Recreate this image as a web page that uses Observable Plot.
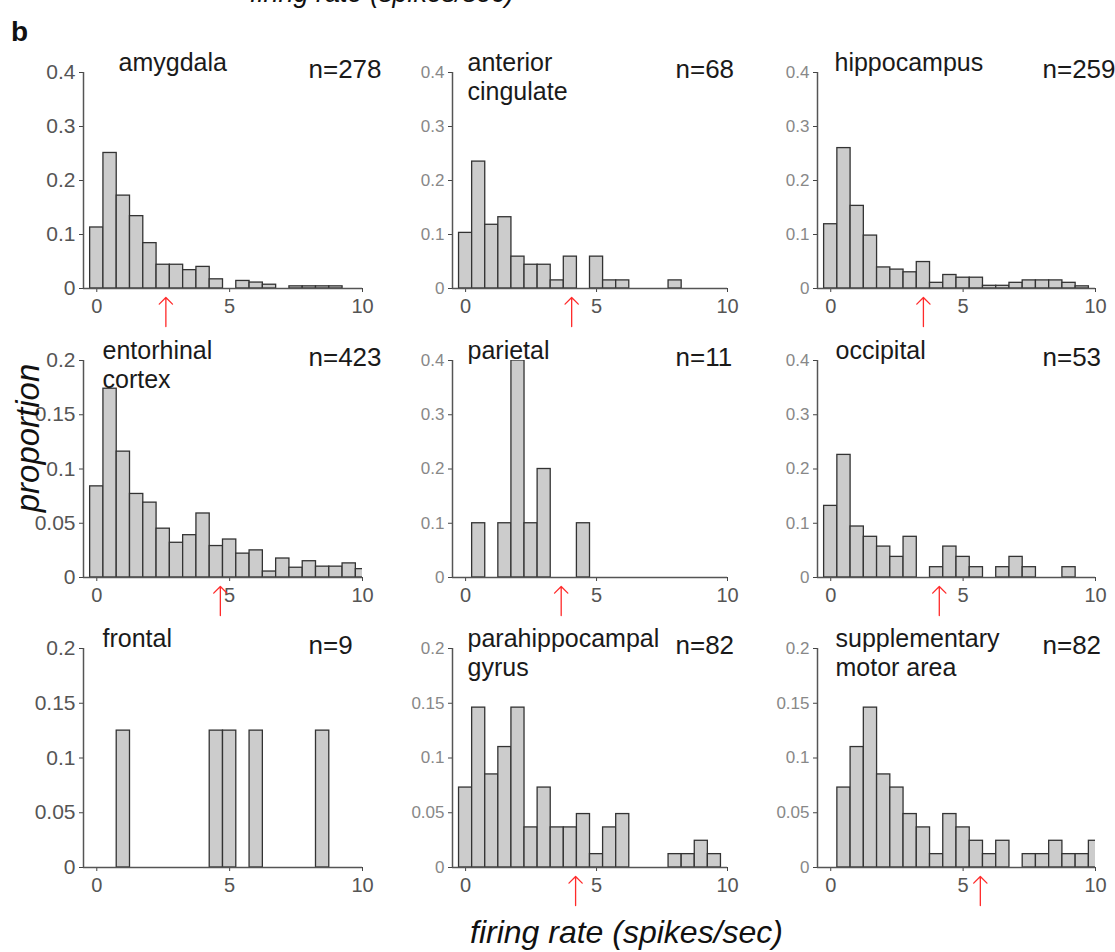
<!DOCTYPE html>
<html>
<head>
<meta charset="utf-8">
<script src="https://cdn.jsdelivr.net/npm/d3@7"></script>
<script src="https://cdn.jsdelivr.net/npm/@observablehq/plot@0.6"></script>
<style>
  html, body { margin: 0; padding: 0; background: #fff; overflow: hidden; }
  #fig { position: relative; width: 1115px; height: 952px; font-family: "Liberation Sans", Arial, sans-serif; color: #111; }
  .panel { position: absolute; }
  .panel svg { overflow: visible; max-width: none !important; }
  .lbl { position: absolute; white-space: nowrap; line-height: 1; }
  .c0 g[aria-label^="y-axis"] text { font-size: 21px; fill: #555; }
  .c1 g[aria-label^="y-axis"] text, .c2 g[aria-label^="y-axis"] text { font-size: 17px; fill: #888; }
  g[aria-label^="x-axis"] text { font-size: 20px; fill: #555; }
</style>
</head>
<body>
<div id="fig"></div>
<script>
// ---------- data ----------
const binCenters = [0, 0.5, 1, 1.5, 2, 2.5, 3, 3.5, 4, 4.5, 5, 5.5, 6, 6.5, 7, 7.5, 8, 8.5, 9, 9.5, 10];
const regions = ["amygdala", "anterior\ncingulate", "hippocampus",
                 "entorhinal\ncortex", "parietal", "occipital",
                 "frontal", "parahippocampal\ngyrus", "supplementary\nmotor area"];
const counts = [278, 68, 259, 423, 11, 53, 9, 82, 82];
const meanRates = [2.6, 4.05, 3.5, 4.65, 3.65, 4.1, null, 4.2, 5.65];
const yMaxes = [0.4, 0.4, 0.4, 0.2, 0.4, 0.4, 0.2, 0.2, 0.2];
const yTicks04 = [0, 0.1, 0.2, 0.3, 0.4];
const yTicks02 = [0, 0.05, 0.1, 0.15, 0.2];
const xTicks = [0, 5, 10];

const amygdala      = [0.113, 0.251, 0.172, 0.134, 0.084, 0.044, 0.044, 0.034, 0.040, 0.017, 0, 0.014, 0.011, 0.007, 0, 0.004, 0.004, 0.004, 0.004, 0, 0];
const antCingulate  = [0.103, 0.235, 0.118, 0.132, 0.059, 0.044, 0.044, 0.015, 0.059, 0, 0.059, 0.015, 0.015, 0, 0, 0, 0.015, 0, 0, 0, 0];
const hippocampus   = [0.119, 0.260, 0.153, 0.098, 0.039, 0.035, 0.030, 0.049, 0.0105, 0.025, 0.020, 0.020, 0.005, 0.005, 0.0105, 0.015, 0.015, 0.015, 0.0105, 0.004, 0];
const entorhinal    = [0.084, 0.174, 0.116, 0.077, 0.069, 0.045, 0.032, 0.039, 0.059, 0.029, 0.035, 0.022, 0.025, 0.0055, 0.0175, 0.009, 0.015, 0.010, 0.010, 0.013, 0.0077];
const parietal      = [0, 0.1, 0, 0.1, 0.4, 0.1, 0.2, 0, 0, 0.1, 0, 0, 0, 0, 0, 0, 0, 0, 0, 0, 0];
const occipital     = [0.132, 0.226, 0.094, 0.075, 0.057, 0.038, 0.075, 0, 0.019, 0.057, 0.038, 0.019, 0, 0.019, 0.038, 0.019, 0, 0, 0.019, 0, 0];
const frontal       = [0, 0, 0.125, 0, 0, 0, 0, 0, 0, 0.125, 0.125, 0, 0.125, 0, 0, 0, 0, 0.125, 0, 0, 0];
const parahippo     = [0.073, 0.146, 0.085, 0.110, 0.146, 0.0366, 0.073, 0.0366, 0.0366, 0.0488, 0.0122, 0.0366, 0.0488, 0, 0, 0, 0.0122, 0.0122, 0.0244, 0.0122, 0];
const sma           = [0, 0.073, 0.110, 0.146, 0.085, 0.073, 0.0488, 0.0366, 0.0122, 0.0488, 0.0366, 0.0244, 0.0122, 0.0244, 0, 0.0122, 0.0122, 0.0244, 0.0122, 0.0122, 0.0244];
const series = [amygdala, antCingulate, hippocampus, entorhinal, parietal, occipital, frontal, parahippo, sma];

// ---------- layout ----------
const colLeft = [83, 452, 817];
const colWidth = [279, 275, 278];
const rowTop = [72, 360, 648];
const rowHeight = [216, 217, 219];
const M = {left: 80, right: 30, top: 50, bottom: 50};
const titleDx = [[35, 15, 17], [19, 15, 18], [19, 15, 18]];
const nDx = [225, 223, 225];
const binWidth = 0.5;

const fig = document.getElementById("fig");

function addLabel(text, css) {
  const d = document.createElement("div");
  d.className = "lbl";
  d.textContent = text;
  Object.assign(d.style, css);
  fig.appendChild(d);
  return d;
}

addLabel("firing rate (spikes/sec)", {left: "250px", top: "-20px", fontSize: "27px", fontStyle: "italic"});
addLabel("b", {left: "11px", top: "18px", fontSize: "28px", fontWeight: "bold"});

series.forEach((vals, i) => {
  const row = Math.floor(i / 3), col = i % 3;
  const bars = binCenters
    .map((c, k) => ({x1: c - binWidth / 2, x2: c + binWidth / 2, p: vals[k]}))
    .filter(d => d.p > 0);
  const yMax = yMaxes[i];
  const titleFs = 25, nFs = 26;
  const marks = [
    Plot.rectY(bars, {x1: "x1", x2: "x2", y: "p", fill: "#cccccc", stroke: "#333", strokeWidth: 1.3, clip: true}),
    Plot.ruleY([0], {stroke: "#555", strokeWidth: 1.5}),
    Plot.ruleX([-0.5], {stroke: "#555", strokeWidth: 1.5}),
    Plot.text([regions[i]], {frameAnchor: "top-left", textAnchor: "start", lineAnchor: "top",
      lineHeight: 1.2, fontSize: titleFs, fill: "#1a1a1a",
      dx: titleDx[row][col], dy: -2 - 0.71 * 1.2 * titleFs}),
    Plot.text([`n=${counts[i]}`], {frameAnchor: "top-left", textAnchor: "start", lineAnchor: "top",
      fontSize: nFs, fill: "#1a1a1a", dx: nDx[col], dy: 5 - 0.71 * nFs})
  ];
  if (meanRates[i] != null) {
    marks.push(Plot.vector([meanRates[i]], {x: d => d, y: 0, length: 29, rotate: 0, anchor: "end",
      dy: 9, stroke: "#ff2a2a", strokeWidth: 1.3, r: 4}));
  }
  const chart = Plot.plot({
    width: colWidth[col] + M.left + M.right,
    height: rowHeight[row] + M.top + M.bottom,
    marginLeft: M.left, marginRight: M.right, marginTop: M.top, marginBottom: M.bottom,
    style: {background: "transparent", fontFamily: "Liberation Sans, Arial, sans-serif", color: "#444", overflow: "visible", maxWidth: "none"},
    x: {domain: [-0.5, 10], ticks: xTicks, tickSize: 4, tickPadding: 6, label: null, tickFormat: d => `${d}`},
    y: {domain: [0, yMax], ticks: yMax > 0.3 ? yTicks04 : yTicks02, tickSize: 4, tickPadding: 4, label: null, tickFormat: d => `${d}`},
    marks
  });
  const wrap = document.createElement("div");
  wrap.className = `panel c${col}`;
  wrap.style.left = (colLeft[col] - M.left) + "px";
  wrap.style.top = (rowTop[row] - M.top) + "px";
  wrap.style.width = (colWidth[col] + M.left + M.right) + "px";
  wrap.appendChild(chart);
  fig.appendChild(wrap);
});

addLabel("proportion", {left: "27px", top: "438px", fontSize: "33px", fontStyle: "italic",
  transform: "translate(-50%, -50%) rotate(-90deg)"});
addLabel("firing rate (spikes/sec)", {left: "470px", top: "916px", fontSize: "32px", fontStyle: "italic"});
</script>
</body>
</html>
